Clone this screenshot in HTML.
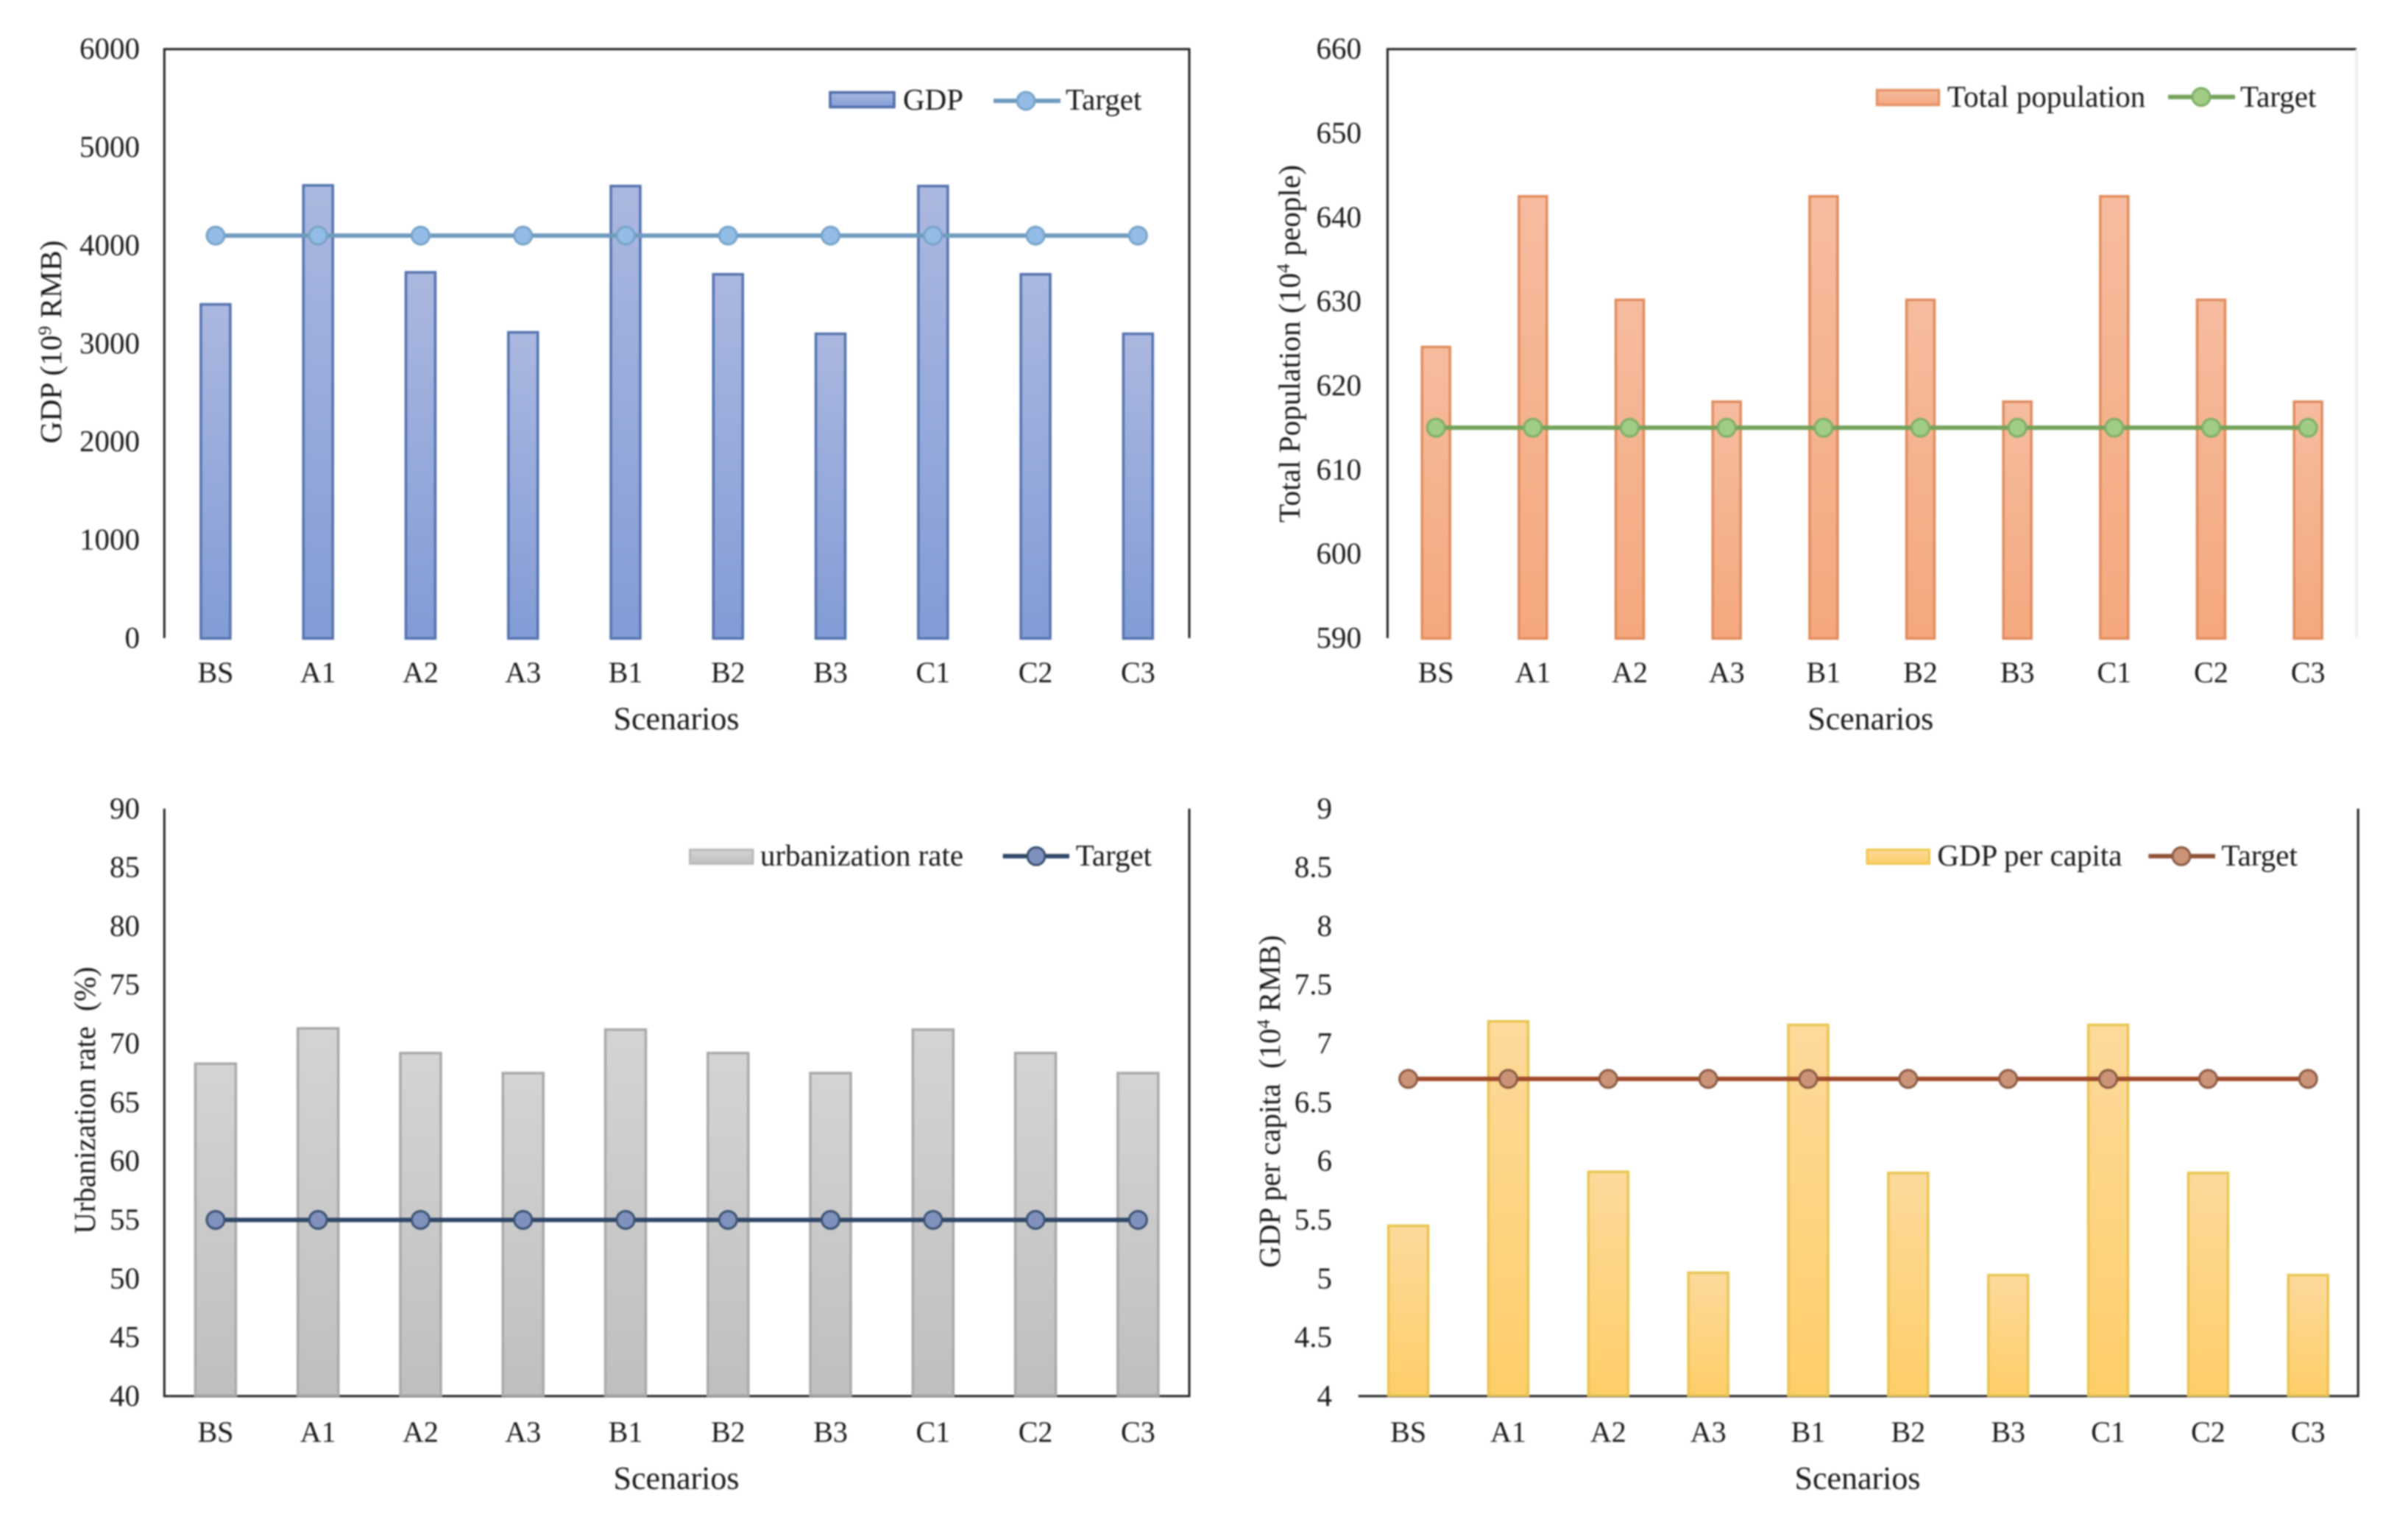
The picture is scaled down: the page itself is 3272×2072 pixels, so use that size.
<!DOCTYPE html>
<html lang="en">
<head>
<meta charset="utf-8">
<title>Scenario comparison charts</title>
<style>
html,body{margin:0;padding:0;background:#fff;}
body{width:3272px;height:2072px;overflow:hidden;}
svg{display:block;position:absolute;left:0;top:0;filter:blur(1px);}
text{font-family:"Liberation Serif",serif;fill:#1a1a1a;}
.tick{font-size:41px;}
.cat{font-size:40px;}
.legend{font-size:41px;}
.xtitle{font-size:44px;}
.ytitle{font-size:41px;}
</style>
</head>
<body>
<svg id="figure" xmlns="http://www.w3.org/2000/svg" width="3272" height="2072" viewBox="0 0 3272 2072">
  <defs>
    <linearGradient id="grad-blue" x1="0" y1="0" x2="0" y2="1"><stop offset="0" stop-color="#abb8e0"/><stop offset="1" stop-color="#839cd6"/></linearGradient>
    <linearGradient id="grad-orange" x1="0" y1="0" x2="0" y2="1"><stop offset="0" stop-color="#f6bc9f"/><stop offset="1" stop-color="#f5a87e"/></linearGradient>
    <linearGradient id="grad-gray" x1="0" y1="0" x2="0" y2="1"><stop offset="0" stop-color="#d4d4d4"/><stop offset="1" stop-color="#bfbfbf"/></linearGradient>
    <linearGradient id="grad-yellow" x1="0" y1="0" x2="0" y2="1"><stop offset="0" stop-color="#fdda9c"/><stop offset="1" stop-color="#fece68"/></linearGradient>
  </defs>

  <g id="panel-gdp">
    <path d="M223.3 867V66.7H1616V867" fill="none" stroke="#222" stroke-width="3"/>
    <text class="ytitle" text-anchor="middle" transform="translate(83,464.5) rotate(-90)" textLength="276" lengthAdjust="spacingAndGlyphs">GDP (10<tspan font-size="25" dy="-14">9</tspan><tspan dy="14"> RMB)</tspan></text>
    <text class="xtitle" text-anchor="middle" x="919" y="991">Scenarios</text>
    <g>
      <rect x="1128" y="125.5" width="87" height="20" fill="url(#grad-blue)" stroke="#4f6da8" stroke-width="3.5"/>
      <text class="legend" x="1227" y="149">GDP</text>
      <line x1="1350" x2="1441" y1="137" y2="137" stroke="#6f9bbf" stroke-width="6"/>
      <circle cx="1394" cy="137" r="12" fill="#93bce6" stroke="#78a4c8" stroke-width="3"/>
      <text class="legend" x="1448" y="149">Target</text>
    </g>
  </g>

  <g id="panel-population">
    <path d="M1885.4 867V66.7H3202" fill="none" stroke="#222" stroke-width="3"/>
    <line x1="3202" x2="3202" y1="66.7" y2="867" stroke="#ececec" stroke-width="3"/>
    <text class="ytitle" text-anchor="middle" transform="translate(1766,467) rotate(-90)" textLength="486" lengthAdjust="spacingAndGlyphs">Total Population (10<tspan font-size="25" dy="-14">4</tspan><tspan dy="14"> people)</tspan></text>
    <text class="xtitle" text-anchor="middle" x="2541.7" y="991">Scenarios</text>
    <g>
      <rect x="2550.5" y="122.5" width="84" height="20" fill="url(#grad-orange)" stroke="#e49468" stroke-width="3.5"/>
      <text class="legend" x="2646" y="145">Total population</text>
      <line x1="2946" x2="3037" y1="131.7" y2="131.7" stroke="#74a35a" stroke-width="6"/>
      <circle cx="2991" cy="131.7" r="12" fill="#a0cc85" stroke="#7fae68" stroke-width="3"/>
      <text class="legend" x="3044" y="145">Target</text>
    </g>
  </g>

  <g id="panel-urbanization">
    <path d="M223.3 1098.8V1896.9H1616V1098.8" fill="none" stroke="#222" stroke-width="3"/>
    <text class="ytitle" text-anchor="middle" transform="translate(129,1495) rotate(-90)" textLength="363" lengthAdjust="spacingAndGlyphs" xml:space="preserve">Urbanization rate  (%)</text>
    <text class="xtitle" text-anchor="middle" x="919" y="2023">Scenarios</text>
    <g>
      <rect x="937.5" y="1154.5" width="85.5" height="19" fill="url(#grad-gray)" stroke="#b9b9b9" stroke-width="3"/>
      <text class="legend" x="1033" y="1176" textLength="276" lengthAdjust="spacingAndGlyphs">urbanization rate</text>
      <line x1="1362.7" x2="1453" y1="1163.3" y2="1163.3" stroke="#2f4668" stroke-width="6"/>
      <circle cx="1408" cy="1163.3" r="12" fill="#8191bd" stroke="#3a5172" stroke-width="3"/>
      <text class="legend" x="1461.7" y="1176">Target</text>
    </g>
  </g>

  <g id="panel-per-capita">
    <path d="M1845.7 1896.9H3204.2V1098.8" fill="none" stroke="#222" stroke-width="3"/>
    <text class="ytitle" text-anchor="middle" transform="translate(1739,1496.5) rotate(-90)" textLength="452" lengthAdjust="spacingAndGlyphs" xml:space="preserve">GDP per capita  (10<tspan font-size="25" dy="-14">4</tspan><tspan dy="14"> RMB)</tspan></text>
    <text class="xtitle" text-anchor="middle" x="2524" y="2023">Scenarios</text>
    <g>
      <rect x="2537" y="1154.5" width="84.5" height="19" fill="url(#grad-yellow)" stroke="#efc94e" stroke-width="3"/>
      <text class="legend" x="2632.4" y="1176" textLength="251" lengthAdjust="spacingAndGlyphs">GDP per capita</text>
      <line x1="2919.4" x2="3010" y1="1163.3" y2="1163.3" stroke="#8f5136" stroke-width="6"/>
      <circle cx="2964" cy="1163.3" r="12" fill="#cb9478" stroke="#8a5a42" stroke-width="3"/>
      <text class="legend" x="3018.5" y="1176">Target</text>
    </g>
  </g>
</svg>
<script>
const categories = ['BS', 'A1', 'A2', 'A3', 'B1', 'B2', 'B3', 'C1', 'C2', 'C3'];

const gdpValues = [3400, 4612, 3726, 3115, 4605, 3706, 3100, 4605, 3706, 3100];
const gdpTarget = [4100, 4100, 4100, 4100, 4100, 4100, 4100, 4100, 4100, 4100];
const gdpTicks = [0, 1000, 2000, 3000, 4000, 5000, 6000];
const gdpTickLabels = ['0', '1000', '2000', '3000', '4000', '5000', '6000'];

const populationValues = [624.6, 642.5, 630.2, 618.1, 642.5, 630.2, 618.1, 642.5, 630.2, 618.1];
const populationTarget = [615, 615, 615, 615, 615, 615, 615, 615, 615, 615];
const populationTicks = [590, 600, 610, 620, 630, 640, 650, 660];
const populationTickLabels = ['590', '600', '610', '620', '630', '640', '650', '660'];

const urbanizationValues = [68.3, 71.3, 69.2, 67.5, 71.2, 69.2, 67.5, 71.2, 69.2, 67.5];
const urbanizationTarget = [55, 55, 55, 55, 55, 55, 55, 55, 55, 55];
const urbanizationTicks = [40, 45, 50, 55, 60, 65, 70, 75, 80, 85, 90];
const urbanizationTickLabels = ['40', '45', '50', '55', '60', '65', '70', '75', '80', '85', '90'];

const perCapitaValues = [5.45, 7.19, 5.91, 5.05, 7.16, 5.9, 5.03, 7.16, 5.9, 5.03];
const perCapitaTarget = [6.7, 6.7, 6.7, 6.7, 6.7, 6.7, 6.7, 6.7, 6.7, 6.7];
const perCapitaTicks = [4, 4.5, 5, 5.5, 6, 6.5, 7, 7.5, 8, 8.5, 9];
const perCapitaTickLabels = ['4', '4.5', '5', '5.5', '6', '6.5', '7', '7.5', '8', '8.5', '9'];

const SVG_NS = 'http://www.w3.org/2000/svg';

function addShape(parent, tag, attrs) {
  const el = document.createElementNS(SVG_NS, tag);
  for (const key in attrs) el.setAttribute(key, attrs[key]);
  parent.appendChild(el);
  return el;
}

function drawPanel(opt) {
  const root = document.getElementById(opt.id);
  const domainMin = opt.ticks[0];
  const domainMax = opt.ticks[opt.ticks.length - 1];
  const yScale = function (v) {
    return opt.bottom - (v - domainMin) / (domainMax - domainMin) * (opt.bottom - opt.top);
  };
  const bandWidth = (opt.right - opt.left) / categories.length;
  const xScale = function (i) {
    return opt.left + bandWidth * (i + 0.5);
  };

  const barsGroup = addShape(root, 'g', {});
  
  
  opt.values.forEach(function (v, i) {
    const top = yScale(v);
    const bar = addShape(barsGroup, 'rect', {
      x: xScale(i) - opt.barWidth / 2,
      y: top,
      width: opt.barWidth,
      height: opt.barBase - top,
      fill: opt.fill,
      stroke: opt.barStroke,
      'stroke-width': 3.5
    });
    
    
  });

  const points = opt.target.map(function (v, i) {
    return xScale(i) + ',' + yScale(v);
  }).join(' ');
  const targetLine = addShape(root, 'polyline', {
    points: points,
    fill: 'none',
    stroke: opt.lineColor,
    'stroke-width': 6
  });
  
  

  opt.target.forEach(function (v, i) {
    const marker = addShape(root, 'circle', {
      cx: xScale(i),
      cy: yScale(v),
      r: 12,
      fill: opt.markerFill,
      stroke: opt.markerStroke,
      'stroke-width': 3
    });
    
    
  });

  opt.ticks.forEach(function (t, i) {
    const label = addShape(root, 'text', {
      class: 'tick',
      x: opt.tickRight,
      y: yScale(t) + 13,
      'text-anchor': 'end'
    });
    label.textContent = opt.tickLabels[i];
    
    
  });

  categories.forEach(function (c, i) {
    const label = addShape(root, 'text', {
      class: 'cat',
      x: xScale(i),
      y: opt.catBaseline,
      'text-anchor': 'middle'
    });
    label.textContent = c;
    
    
  });
}

drawPanel({
  id: 'panel-gdp', values: gdpValues, target: gdpTarget, ticks: gdpTicks, tickLabels: gdpTickLabels,
  left: 223.3, right: 1616, top: 66.7, bottom: 867, barBase: 867.5, barWidth: 40,
  fill: 'url(#grad-blue)', barStroke: '#5473ae', lineColor: '#6f9bbf', markerFill: '#93bce6', markerStroke: '#78a4c8',
  tickRight: 190, catBaseline: 927
});
drawPanel({
  id: 'panel-population', values: populationValues, target: populationTarget, ticks: populationTicks, tickLabels: populationTickLabels,
  left: 1885.4, right: 3202, top: 66.7, bottom: 867, barBase: 867.5, barWidth: 38,
  fill: 'url(#grad-orange)', barStroke: '#e08c5e', lineColor: '#74a35a', markerFill: '#a0cc85', markerStroke: '#7fae68',
  tickRight: 1850, catBaseline: 927
});
drawPanel({
  id: 'panel-urbanization', values: urbanizationValues, target: urbanizationTarget, ticks: urbanizationTicks, tickLabels: urbanizationTickLabels,
  left: 223.3, right: 1616, top: 1098.8, bottom: 1896.9, barBase: 1896, barWidth: 55,
  fill: 'url(#grad-gray)', barStroke: '#a9a9a9', lineColor: '#2f4668', markerFill: '#8191bd', markerStroke: '#3a5172',
  tickRight: 190, catBaseline: 1959
});
drawPanel({
  id: 'panel-per-capita', values: perCapitaValues, target: perCapitaTarget, ticks: perCapitaTicks, tickLabels: perCapitaTickLabels,
  left: 1845.7, right: 3204.2, top: 1098.8, bottom: 1896.9, barBase: 1896, barWidth: 54,
  fill: 'url(#grad-yellow)', barStroke: '#e9c552', lineColor: '#a0492a', markerFill: '#cb9478', markerStroke: '#8a5a42',
  tickRight: 1810, catBaseline: 1959
});
</script>
</body>
</html>
